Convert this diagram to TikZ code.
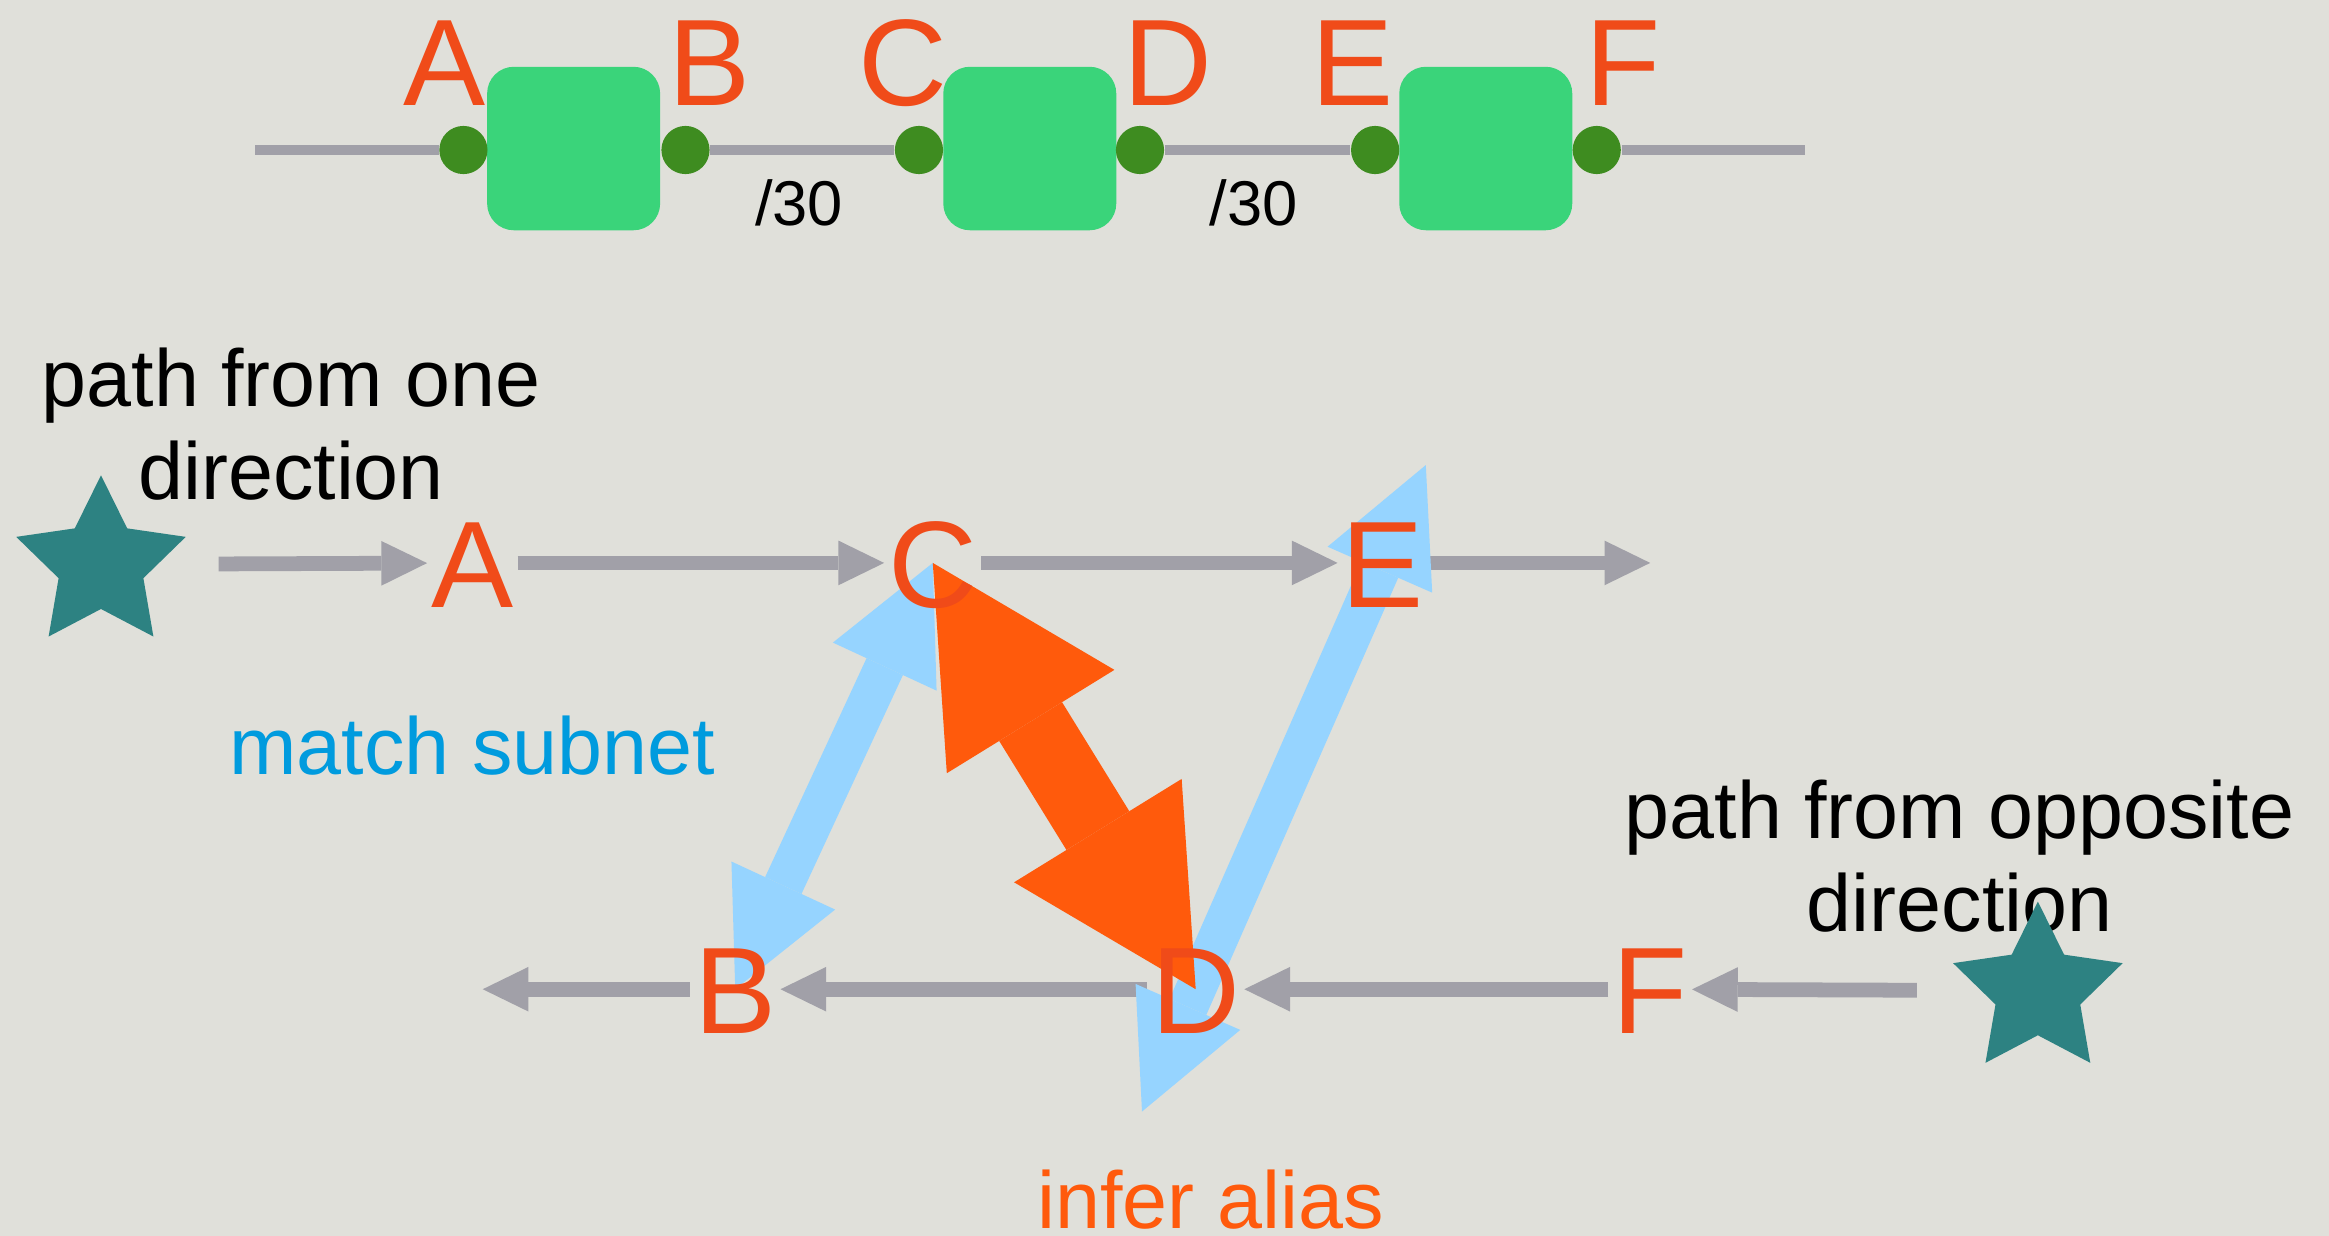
\documentclass[tikz,border=0pt]{standalone}
\usepackage{fontspec}
\setmainfont{Liberation Sans}
\usetikzlibrary{arrows.meta,shapes.geometric}
\definecolor{paper_gray}{RGB}{224,224,218}
\definecolor{hop_red}{RGB}{240,75,25}
\definecolor{box_green}{RGB}{58,212,122}
\definecolor{port_green}{RGB}{62,140,32}
\definecolor{wire_gray}{RGB}{161,160,168}
\definecolor{src_teal}{RGB}{45,130,130}
\definecolor{subnet_blue}{RGB}{150,212,255}
\definecolor{alias_orange}{RGB}{255,90,12}
\definecolor{text_blue}{RGB}{0,155,222}
\pgfdeclarelayer{paper}
\pgfdeclarelayer{links}
\pgfsetlayers{paper,links,main}

\begin{document}
\begin{tikzpicture}[x=0.014853cm,y=-0.014853cm]
    \tikzstyle{hop}=[text=hop_red,font=\fontsize{35}{40}\selectfont,inner sep=1pt,text height=25.1pt,text depth=0pt]
    \tikzstyle{wire}=[draw=wire_gray,line width=3pt]
    \tikzstyle{port}=[circle,fill=port_green,minimum size=13.7pt,inner sep=0pt]
    \tikzstyle{router}=[rectangle,rounded corners=7.6pt,fill=box_green,minimum width=49.2pt,minimum height=46.5pt,inner sep=0pt]
    \tikzstyle{mask}=[font=\fontsize{18}{20}\selectfont,anchor=base,inner sep=0pt]
    \tikzstyle{note}=[font=\fontsize{23}{26.4}\selectfont,align=center,inner sep=0pt]
    \tikzstyle{src}=[star,star points=5,star point ratio=2,minimum size=50.7pt,inner sep=0pt,fill=src_teal]
    \tikzstyle{flow}=[draw=wire_gray,line width=4.2pt,-{Triangle[length=13pt,width=12.7pt,line width=0pt]}]
    \tikzstyle{subnet}=[draw=subnet_blue,line width=11.4pt,
      {Triangle[length=32.5pt,width=32.5pt,line width=0pt]}-{Triangle[length=32.5pt,width=32.5pt,line width=0pt]}]
    \tikzstyle{alias}=[draw=alias_orange,line width=21pt,
      {Triangle[length=53pt,width=56pt,line width=0pt]}-{Triangle[length=53pt,width=56pt,line width=0pt]}]

    \useasboundingbox (0,0) rectangle (1568,832);
    \begin{pgfonlayer}{paper}
      \fill[paper_gray] (0,0) rectangle (1568,832);
    \end{pgfonlayer}

    % top row
    \coordinate (wL) at (172,101);
    \coordinate (wR) at (1215,101);
    \node[router] (r1) at (386.2,100) {};
    \node[router] (r2) at (693.3,100) {};
    \node[router] (r3) at (1000.3,100) {};
    \node[port] (pA) at (312,101) {};
    \node[port] (pB) at (461.5,101) {};
    \node[port] (pC) at (618.7,101) {};
    \node[port] (pD) at (767.5,101) {};
    \node[port] (pE) at (925.8,101) {};
    \node[port] (pF) at (1075,101) {};
    \node[hop] (tA) at (299,41) {A};
    \node[hop] (tB) at (477.6,41) {B};
    \node[hop] (tC) at (608,41) {C};
    \node[hop] (tD) at (786.6,41) {D};
    \node[hop] (tE) at (910.4,41) {E};
    \node[hop] (tF) at (1093,41) {F};
    \node[mask] (m1) at (538,151.5) {/30};
    \node[mask] (m2) at (844,151.5) {/30};

    % paths
    \node[hop] (A) at (318,379) {A};
    \node[hop] (C) at (628,379) {C};
    \node[hop] (E) at (931,379) {E};
    \node[hop] (B) at (495,666) {B};
    \node[hop] (D) at (805,666) {D};
    \node[hop] (F) at (1111,666) {F};
    \coordinate (endE) at (1111,379);
    \coordinate (endB) at (325,666);

    \node[note] (noteL) at (196,285.5) {path from one\\direction};
    \node[note] (noteR) at (1319.3,576.3) {path from opposite\\direction};
    \node[note,anchor=base,text=text_blue] (match) at (318,521.3) {match subnet};
    \node[note,anchor=base,text=alias_orange] (infer) at (815,827) {infer alias};
    \node[src] (sL) at (68,380) {};
    \node[src] (sR) at (1372,667) {};

    \begin{pgfonlayer}{links}
      \draw[wire] (wL) -- (pA) (pB) -- (pC) (pD) -- (pE) (pF) -- (wR);
      \draw[flow,shorten <=17pt] (sL) -- (A);
      \draw[flow] (A) -- (C);
      \draw[flow] (C) -- (E);
      \draw[flow] (E) -- (endE);
      \draw[flow,shorten <=18pt] (sR) -- (F);
      \draw[flow] (F) -- (D);
      \draw[flow] (D) -- (B);
      \draw[flow] (B) -- (endB);
      \draw[subnet] (C.center) -- (B.center);
      \draw[subnet,shorten <=-38pt,shorten >=-30.4pt] (D.center) -- (E.center);
      \draw[alias] (C.center) -- (D.center);
    \end{pgfonlayer}
\end{tikzpicture}
\end{document}
